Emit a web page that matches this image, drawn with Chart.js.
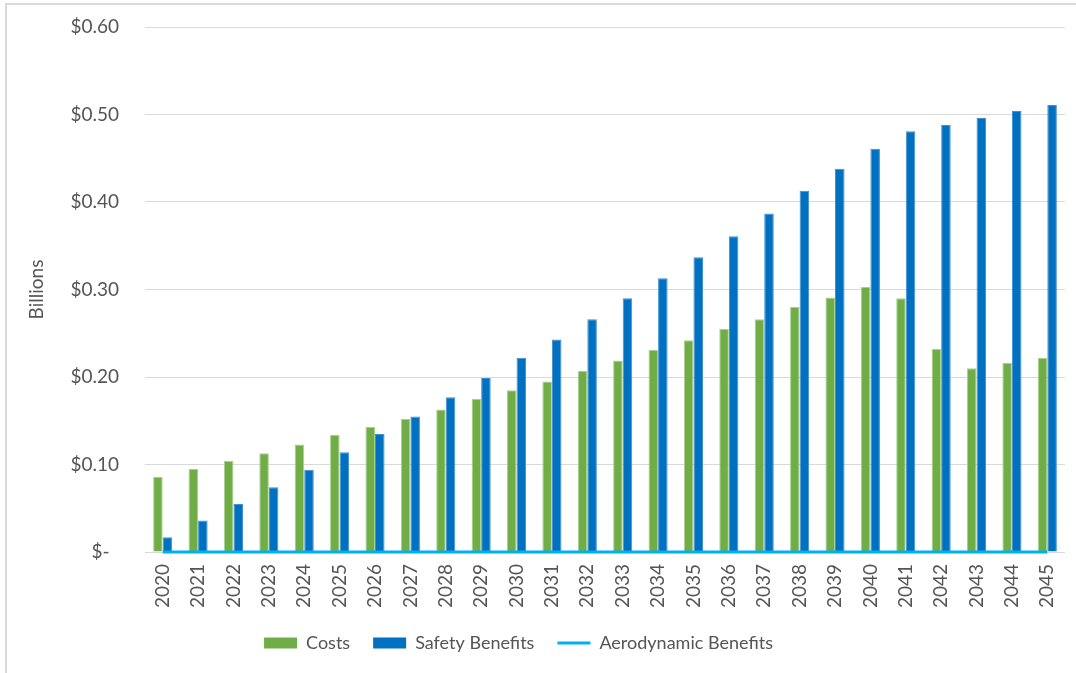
<!DOCTYPE html>
<html>
<head>
<meta charset="utf-8">
<script src="https://cdn.jsdelivr.net/npm/chart.js@4/dist/chart.umd.min.js"></script>
<style>
  html, body { margin: 0; padding: 0; background: #ffffff; overflow: hidden; }
  #wrap { position: relative; width: 1076px; height: 673px; }
  #frame { position: absolute; left: 5px; top: 3px; right: -10px; bottom: -10px;
           border-left: 2px solid #d9d9d9; border-top: 2px solid #d9d9d9; }
  canvas { position: absolute; left: 0; top: 0; }
</style>
</head>
<body>
<div id="wrap">
  <div id="frame"></div>
  <canvas id="chart" width="1076" height="673"></canvas>
</div>
<script>
// Annual values, billions of dollars
const years = ['2020','2021','2022','2023','2024','2025','2026','2027','2028','2029',
               '2030','2031','2032','2033','2034','2035','2036','2037','2038','2039',
               '2040','2041','2042','2043','2044','2045'];
const costs = [0.086, 0.095, 0.104, 0.113, 0.123, 0.134, 0.143, 0.152, 0.163, 0.175,
               0.185, 0.195, 0.207, 0.219, 0.231, 0.242, 0.255, 0.266, 0.280, 0.291,
               0.303, 0.290, 0.232, 0.210, 0.216, 0.222];
const safetyBenefits = [0.017, 0.036, 0.055, 0.074, 0.094, 0.114, 0.135, 0.155, 0.177, 0.199,
                        0.222, 0.243, 0.266, 0.290, 0.313, 0.337, 0.361, 0.387, 0.413, 0.438,
                        0.461, 0.481, 0.488, 0.496, 0.504, 0.511];
const aerodynamicBenefits = [0, 0, 0, 0, 0, 0, 0, 0, 0, 0,
                             0, 0, 0, 0, 0, 0, 0, 0, 0, 0,
                             0, 0, 0, 0, 0, 0];
const yTicks = [0, 0.1, 0.2, 0.3, 0.4, 0.5, 0.6];

const FONT = 'Lato, "Liberation Sans", sans-serif';
const TEXT = '#555555';

// nudge the legend so it sits centred under the plot
const legendShift = {
  id: 'legendShift',
  afterLayout(chart) {
    const lg = chart.legend;
    if (lg) { lg.left -= 14; lg.right -= 14; }
  }
};

new Chart(document.getElementById('chart'), {
  data: {
    labels: years,
    datasets: [
      {
        type: 'bar', label: 'Costs', data: costs,
        backgroundColor: '#70AD47', borderColor: '#a9d18e', borderWidth: 1,
        categoryPercentage: 0.54, barPercentage: 1, order: 1
      },
      {
        type: 'bar', label: 'Safety Benefits', data: safetyBenefits,
        backgroundColor: '#0070C0', borderColor: '#3f8fd3', borderWidth: 1,
        categoryPercentage: 0.54, barPercentage: 1, order: 1
      },
      {
        type: 'line', label: 'Aerodynamic Benefits', data: aerodynamicBenefits,
        borderColor: '#00B0F0', backgroundColor: '#00B0F0', borderWidth: 3,
        pointRadius: 0, pointHoverRadius: 0, fill: false, clip: false, order: 0
      }
    ]
  },
  options: {
    responsive: false,
    animation: false,
    devicePixelRatio: 1,
    layout: { autoPadding: false, padding: { left: 0, right: 11, top: 27, bottom: 11 } },
    plugins: {
      tooltip: { enabled: false },
      legend: {
        position: 'bottom',
        labels: {
          usePointStyle: true,
          pointStyleWidth: 33,
          boxHeight: 11,
          padding: 23,
          color: TEXT,
          font: { family: FONT, size: 18 },
          sort: (a, b) => a.datasetIndex - b.datasetIndex,
          generateLabels(chart) {
            const items = Chart.defaults.plugins.legend.labels.generateLabels(chart);
            return items.map(it => {
              if (it.datasetIndex === 2) {
                it.pointStyle = 'line'; it.lineWidth = 3; it.strokeStyle = '#00B0F0';
              } else {
                it.pointStyle = 'rect'; it.lineWidth = 0;
              }
              return it;
            });
          }
        }
      }
    },
    scales: {
      x: {
        grid: { display: false, drawTicks: false },
        border: { display: false },
        ticks: {
          color: TEXT, font: { family: FONT, size: 19 },
          minRotation: 90, maxRotation: 90, padding: 12, autoSkip: false
        },
        afterFit(s) { s.height = 59; s.paddingLeft = 0; s.paddingRight = 0; }
      },
      y: {
        min: 0, max: 0.6,
        afterBuildTicks(s) { s.ticks = yTicks.map(v => ({ value: v })); },
        grid: { color: '#d9d9d9', lineWidth: 1, drawTicks: false },
        border: { display: false },
        ticks: {
          color: TEXT, font: { family: FONT, size: 19 }, padding: 26,
          callback: v => v === 0 ? '$-\u2002' : '$' + v.toFixed(2)
        },
        title: {
          display: true, text: 'Billions', color: TEXT,
          font: { family: FONT, size: 19 }, padding: { top: 25, bottom: 0 }
        },
        afterFit(s) { s.width = 145; s.paddingTop = 0; s.paddingBottom = 0; }
      }
    }
  },
  plugins: [legendShift]
});
</script>
</body>
</html>
